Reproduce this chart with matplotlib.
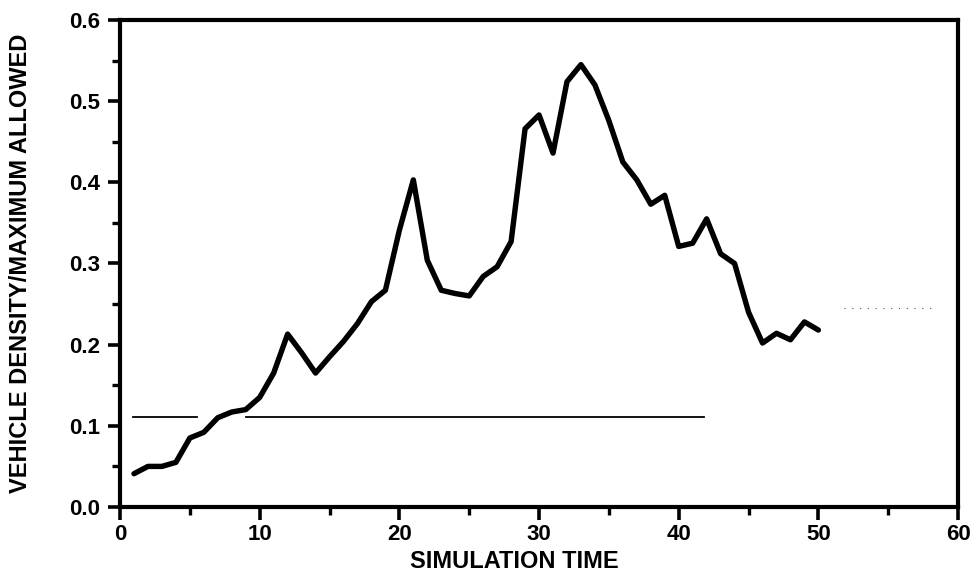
import matplotlib.pyplot as plt
from matplotlib.ticker import MultipleLocator, FormatStrFormatter

plt.rcParams["font.family"] = ["Liberation Sans", "DejaVu Sans"]
plt.rcParams["font.weight"] = "bold"

# vehicle density per simulation step
sim_time = list(range(1, 51))
density = [
    0.041, 0.050, 0.050, 0.055, 0.085, 0.092, 0.110, 0.117, 0.120, 0.135,
    0.165, 0.213, 0.190, 0.165, 0.185, 0.204, 0.226, 0.253, 0.267, 0.341,
    0.403, 0.304, 0.267, 0.263, 0.260, 0.284, 0.296, 0.327, 0.466, 0.483,
    0.436, 0.524, 0.545, 0.520, 0.476, 0.425, 0.403, 0.373, 0.384, 0.321,
    0.325, 0.355, 0.312, 0.300, 0.240, 0.202, 0.214, 0.206, 0.228, 0.218,
]

# reference level drawn as a thin rule
ref_level = 0.111
ref_segments = [(0.95, 5.5), (9.0, 41.8)]

# faint dotted trace on the right
faint_level = 0.245
faint_span = (51.8, 58.2)

fig = plt.figure(figsize=(9.79, 5.81), dpi=100)
ax = fig.add_axes([0.1226, 0.1274, 0.8560, 0.8382])

ax.plot(sim_time, density, color="black", linewidth=3.9,
        solid_joinstyle="round", solid_capstyle="round")

for x0, x1 in ref_segments:
    ax.plot([x0, x1], [ref_level, ref_level], color="black", linewidth=1.3)

ax.plot(faint_span, [faint_level, faint_level], color="#555555",
        linewidth=0.8, linestyle=(0, (1, 6)))

ax.set_xlim(0, 60)
ax.set_ylim(0, 0.6)
ax.xaxis.set_major_locator(MultipleLocator(10))
ax.xaxis.set_minor_locator(MultipleLocator(5))
ax.yaxis.set_major_locator(MultipleLocator(0.1))
ax.yaxis.set_minor_locator(MultipleLocator(0.05))
ax.yaxis.set_major_formatter(FormatStrFormatter("%.1f"))

for side in ["left", "right", "top", "bottom"]:
    ax.spines[side].set_linewidth(3.0)

ax.tick_params(which="major", direction="out", length=9, width=2.6,
               labelsize=16, pad=5)
ax.tick_params(which="minor", direction="out", length=5.5, width=2.4)
ax.tick_params(axis="x", which="major", pad=3)

ax.set_xlabel("SIMULATION TIME", fontsize=17, fontweight="bold")
ax.xaxis.set_label_coords(0.471, -0.088)
ax.set_ylabel("VEHICLE DENSITY/MAXIMUM ALLOWED", fontsize=17,
              fontweight="bold")
ax.yaxis.set_label_coords(-0.105, 0.5)

fig.savefig("out.png", dpi=100)
